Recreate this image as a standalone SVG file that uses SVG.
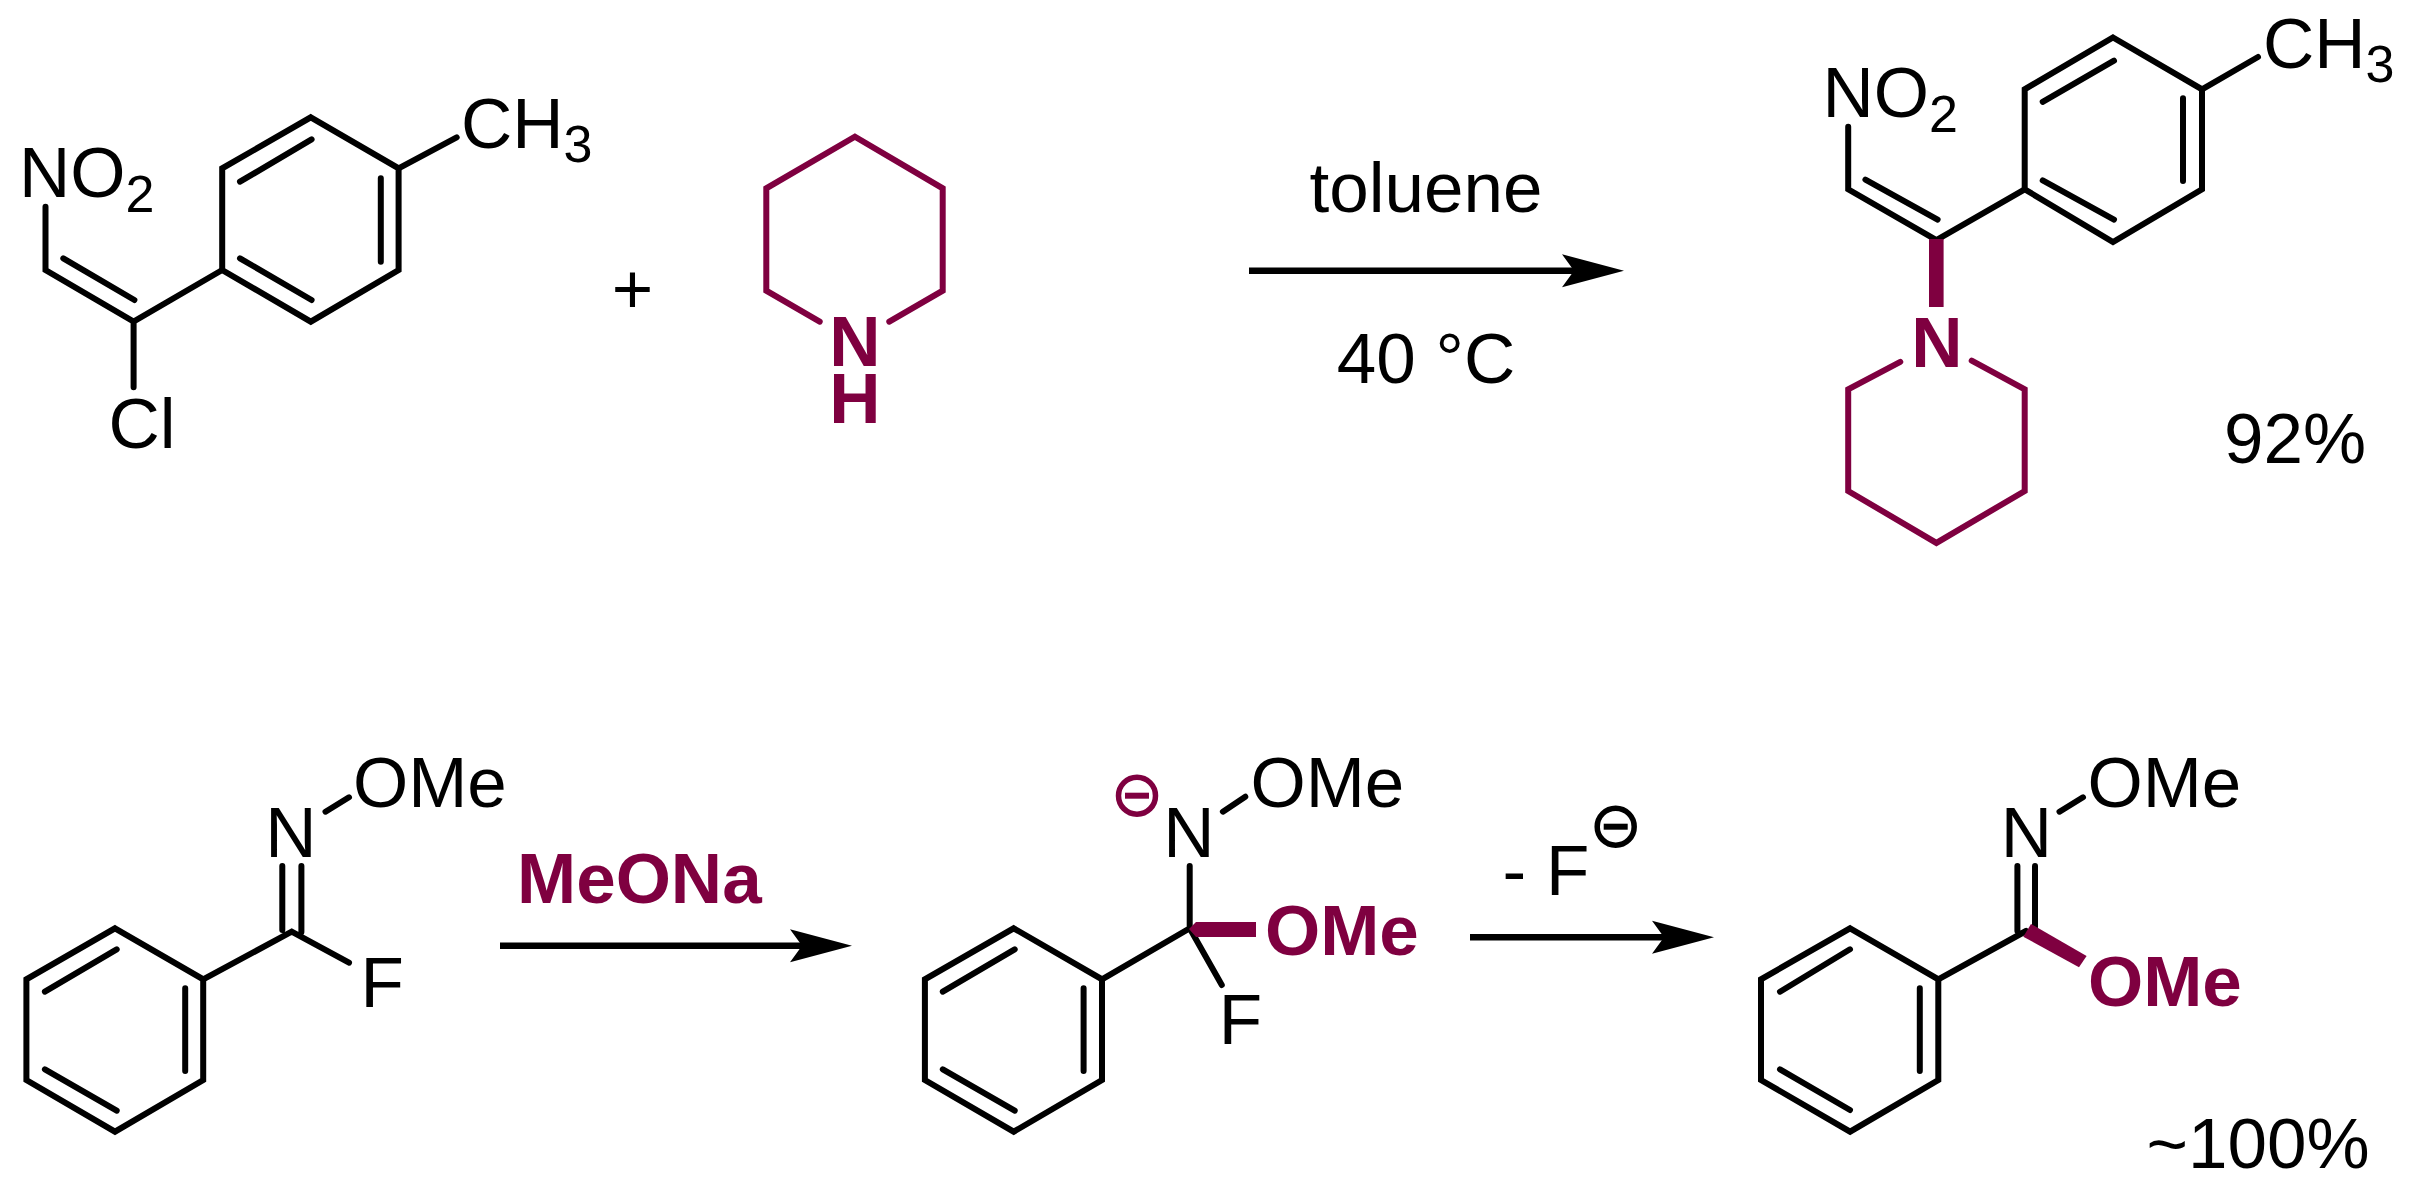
<svg xmlns="http://www.w3.org/2000/svg" width="2409" height="1195" viewBox="0 0 2409 1195">
<style>
text{font-family:"Liberation Sans",Arial,sans-serif;font-size:71px;fill:#000}
.p{fill:#7f0040;font-weight:bold}
.s{font-size:52px}
.k{fill:none;stroke:#000;stroke-width:6;stroke-linecap:round;stroke-linejoin:miter;stroke-miterlimit:10}
.m{fill:none;stroke:#7f0040;stroke-width:6;stroke-linecap:round;stroke-linejoin:miter;stroke-miterlimit:10}
.w{fill:#7f0040;stroke:none}
.a{fill:none;stroke:#000;stroke-width:6.5}
.ci{fill:none;stroke-width:5.5}
</style>
<defs>
<marker id="arrow" markerUnits="userSpaceOnUse" markerWidth="64" markerHeight="34" refX="12" refY="17" orient="auto">
<path d="M0 0.5L62 17L0 33.5L12 17Z" fill="#000"/>
</marker>
</defs>
<rect width="2409" height="1195" fill="#fff"/>

<g id="connectors">
<line class="a" x1="1249" y1="270.7" x2="1574" y2="270.7" marker-end="url(#arrow)"/>
<line class="a" x1="500" y1="945.7" x2="802" y2="945.7" marker-end="url(#arrow)"/>
<line class="a" x1="1470" y1="937.3" x2="1664" y2="937.3" marker-end="url(#arrow)"/>
</g>

<g id="chloronitrostyrene">
<polygon class="k" points="310.8,117.3 398.6,168.3 398.6,270 310.8,321.7 222.2,270 222.2,168.3"/>
<path class="k" d="M240 181.7L311.6 139.3M380.8 178.3V261.7M240 258.3L311.6 300"/>
<path class="k" d="M45.5 206.7V270L133.6 321.5L222.2 270M63.3 258.3L134.4 300M133.6 321.5V387.3M398.6 168.3L456.7 137.3"/>
<text x="19" y="197.3">NO<tspan class="s" dy="15">2</tspan></text>
<text x="461" y="148.3">CH<tspan class="s" dy="13.4">3</tspan></text>
<text x="108.5" y="448.3">Cl</text>
</g>

<g id="plus">
<text x="632.5" y="313" text-anchor="middle">+</text>
</g>

<g id="piperidine">
<path class="m" d="M819.7 321.7L766.3 290.7V188.3L854.9 136.7L942.7 188.3V290.7L889.3 321.7"/>
<text class="p" text-anchor="middle"><tspan x="855" y="365.7">N</tspan><tspan x="855" y="423.3">H</tspan></text>
</g>

<g id="conditions-1">
<text x="1426" y="211.7" text-anchor="middle">toluene</text>
<text x="1426" y="383.3" text-anchor="middle">40 °C</text>
</g>

<g id="product-1">
<polygon class="k" points="2113,37.5 2202,89.3 2202,189.3 2113,242 2024.7,189.3 2024.7,89.3"/>
<path class="k" d="M2042.7 101.8L2114 60.7M2183 98.2V181M2042.7 180.4L2114 219.6"/>
<path class="k" d="M1848.2 126.8V189.3L1936.4 240L2024.7 189.3M1865.4 179.6L1937.6 219.6M2202 89.3L2258 57"/>
<rect class="w" x="1929" y="239" width="14.6" height="68"/>
<text x="1822.5" y="117">NO<tspan class="s" dy="15">2</tspan></text>
<text x="2263" y="67.9">CH<tspan class="s" dy="14">3</tspan></text>
<text class="p" x="1936.8" y="366.8" text-anchor="middle">N</text>
<path class="m" d="M1900.3 361.8L1848.2 389.3V491L1936.4 542.9L2024.7 491V389.3L1971.7 360.7"/>
<text x="2295" y="463" text-anchor="middle">92%</text>
</g>

<g id="oxime-fluoride">
<polygon class="k" points="115,928.3 203.2,979.3 203.2,1080 115,1131.7 26.4,1080 26.4,979.3"/>
<path class="k" d="M44.9 991.7L116.7 949.3M185.2 988.3V1071M44.9 1069.3L116.7 1110.7"/>
<path class="k" d="M203.2 979.3L291.7 931.7L349 962.7M282.3 866V930M301.4 866V932M325.5 811.7L349 797.3"/>
<text x="291" y="857.3" text-anchor="middle">N</text>
<text x="353" y="807">OMe</text>
<text x="360.5" y="1007.3">F</text>
</g>

<g id="reagent-meona">
<text class="p" x="517" y="903.3">MeONa</text>
</g>

<g id="tetrahedral-intermediate">
<polygon class="k" points="1013.7,928.3 1102,979.3 1102,1080 1013.7,1131.7 924.9,1080 924.9,979.3"/>
<path class="k" d="M942.8 991.7L1014.7 949.3M1083.6 988.3V1071M942.8 1069.3L1014.7 1110.7"/>
<path class="k" d="M1102 979.3L1189.7 928.3V866M1189.7 928.3L1221.8 985M1222.9 811.7L1245.3 796.7"/>
<polygon class="w" points="1189,929 1196,922 1256,922 1256,937 1196,937"/>
<text x="1189" y="857.3" text-anchor="middle">N</text>
<text x="1250.5" y="807">OMe</text>
<text class="p" x="1265" y="955">OMe</text>
<text x="1218.7" y="1044">F</text>
<g id="charge-n">
<circle class="ci" cx="1137" cy="795.7" r="18.5" stroke="#7f0040"/>
<rect class="w" x="1125" y="792.7" width="24" height="6"/>
</g>
</g>

<g id="conditions-f">
<text x="1502.6" y="895">- F</text>
<circle class="ci" cx="1615.7" cy="826.7" r="18.5" stroke="#000"/>
<rect x="1603.7" y="823.7" width="24" height="6" fill="#000"/>
</g>

<g id="imidate-product">
<polygon class="k" points="1850.1,928.3 1938.3,979.3 1938.3,1080 1850.1,1131.7 1761,1080 1761,979.3"/>
<path class="k" d="M1780 991.7L1850 949.3M1919.8 988.3V1071M1780 1069.3L1850 1110"/>
<path class="k" d="M1938.3 979.3L2026 931M2017.4 866V931M2035 866V927M2059.5 811.7L2083 797.3"/>
<polygon class="w" points="2031,924 2086.6,956 2079,967.3 2023.3,936.7"/>
<text x="2026.5" y="857.3" text-anchor="middle">N</text>
<text x="2087.5" y="807">OMe</text>
<text class="p" x="2088" y="1005.7">OMe</text>
<text x="2258" y="1167.7" text-anchor="middle">~100%</text>
</g>
</svg>
